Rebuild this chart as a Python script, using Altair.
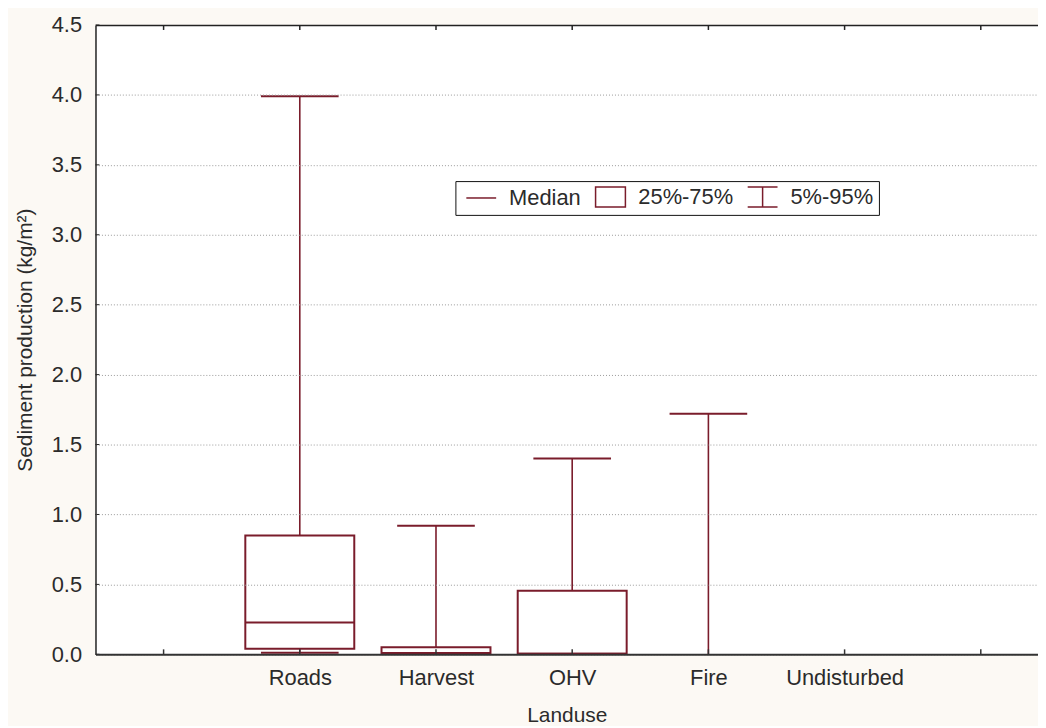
import altair as alt
import pandas as pd

# ---- data ----
categories = ["Roads", "Harvest", "OHV", "Fire", "Undisturbed"]
p05 = [0.012, 0.0, 0.0, 0.0, 0.0]
q1 = [0.04, 0.005, 0.005, 0.0, 0.0]
median = [0.227, 0.01, 0.005, 0.0, 0.0]
q3 = [0.85, 0.05, 0.455, 0.0, 0.0]
p95 = [3.99, 0.92, 1.40, 1.72, 0.0]

axis_labels = [""] + categories + [""]
y_ticks = [0.0, 0.5, 1.0, 1.5, 2.0, 2.5, 3.0, 3.5, 4.0, 4.5]
legend_items = ["Median", "25%-75%", "5%-95%"]
legend_paths = [
    "M-1.5,0H1.5",
    "M-1.5,-1H1.5V1H-1.5Z",
    "M-1.5,-1H1.5M0,-1V1M-1.5,1H1.5",
]

MAROON = "#7a1c2b"
FONT = "Liberation Sans"
FS = 22
FT = 21
TXT = "#2b2b2b"
W, H = 948, 633
NBSP = "\u00a0"

df = pd.DataFrame({
    "cat": categories,
    "idx": list(range(1, len(categories) + 1)),
    "p05": p05, "q1": q1, "median": median, "q3": q3, "p95": p95,
})
ticks_df = pd.DataFrame({"t": list(range(len(axis_labels)))})
yticks_df = pd.DataFrame({"v": y_ticks})
legend_df = pd.DataFrame({"item": legend_items})

xs = alt.Scale(domain=[-0.5, 6.42], nice=False, zero=False)
ys = alt.Scale(domain=[0, 4.5], nice=False, zero=False)

label_expr = "[" + ",".join('"%s"' % l for l in axis_labels) + "][datum.value]"
legend_label_expr = "datum.label == '%s' ? datum.label + '%s' : datum.label" % (
    legend_items[-1], NBSP * 3)

bottom_axis = alt.Axis(
    orient="bottom", values=list(range(len(axis_labels))), labelExpr=label_expr,
    ticks=False, tickSize=0, labelPadding=13, labelFontSize=FS, labelFont=FONT,
    labelColor=TXT, title="Landuse", titleFont=FONT, titleFontSize=FT,
    titleFontWeight="normal", titleColor=TXT, titlePadding=17, grid=False,
    domainColor="#333333", domainWidth=2, zindex=2, labelAngle=0,
)
top_axis = alt.Axis(
    orient="top", labels=False, ticks=False, tickSize=0, title=None, grid=False,
    domainColor="#222222", domainWidth=1.5, zindex=2,
)
y_axis = alt.Axis(
    values=y_ticks, format=".1f", ticks=False, tickSize=0, labelPadding=14,
    labelFontSize=FS, labelFont=FONT, labelColor=TXT,
    title="Sediment production (kg/m²)", titleFont=FONT, titleFontSize=FT,
    titleFontWeight="normal", titleColor=TXT, titlePadding=16,
    grid=True, gridColor="#9a9a9a", gridDash=[1, 2], gridWidth=1,
    domainColor="#222222", domainWidth=1.5, zindex=2,
)

# decorative inward ticks (bottom / top / left)
bottom_ticks = alt.Chart(ticks_df).mark_rule(color="#333333", strokeWidth=1.5).encode(
    x=alt.X("t:Q", scale=xs, axis=bottom_axis),
    y=alt.value(H), y2=alt.value(H - 5),
)
top_ticks = alt.Chart(ticks_df).mark_rule(color="#222222", strokeWidth=1.5).encode(
    x=alt.X("t:Q", scale=xs, axis=top_axis),
    y=alt.value(0), y2=alt.value(5),
)
left_ticks = alt.Chart(yticks_df).mark_rule(color="#222222", strokeWidth=1).encode(
    y=alt.Y("v:Q", scale=ys, axis=y_axis),
    x=alt.value(0), x2=alt.value(4),
)

base = alt.Chart(df).transform_calculate(
    bx1="datum.idx - 0.40", bx2="datum.idx + 0.40",
    cx1="datum.idx - 0.285", cx2="datum.idx + 0.285",
)

whisker = base.mark_rule(color=MAROON, strokeWidth=1.6).encode(
    x=alt.X("idx:Q", scale=xs, axis=None),
    y=alt.Y("p05:Q", scale=ys, axis=None), y2="p95:Q",
)
cap_hi = base.transform_filter("datum.p95 > 0").mark_rule(color=MAROON, strokeWidth=2).encode(
    x=alt.X("cx1:Q", scale=xs, axis=None), x2="cx2:Q",
    y=alt.Y("p95:Q", scale=ys, axis=None),
)
cap_lo = base.transform_filter("datum.p05 > 0").mark_rule(color=MAROON, strokeWidth=2).encode(
    x=alt.X("cx1:Q", scale=xs, axis=None), x2="cx2:Q",
    y=alt.Y("p05:Q", scale=ys, axis=None),
)
box = base.transform_filter("datum.q3 > 0").mark_rect(fill="white", stroke=MAROON, strokeWidth=2).encode(
    x=alt.X("bx1:Q", scale=xs, axis=None), x2="bx2:Q",
    y=alt.Y("q1:Q", scale=ys, axis=None), y2="q3:Q",
)
med = base.transform_filter("datum.median > 0").mark_rule(color=MAROON, strokeWidth=2).encode(
    x=alt.X("bx1:Q", scale=xs, axis=None), x2="bx2:Q",
    y=alt.Y("median:Q", scale=ys, axis=None),
)

legend_layer = alt.Chart(legend_df).mark_point(filled=False, opacity=0, strokeWidth=1.5).encode(
    x=alt.value(0), y=alt.value(0),
    color=alt.value(MAROON),
    shape=alt.Shape(
        "item:N",
        scale=alt.Scale(domain=legend_items, range=legend_paths),
        sort=legend_items,
        legend=alt.Legend(
            title=None, orient="none", legendX=362, legendY=157,
            direction="horizontal", fillColor="white", strokeColor="#111111",
            padding=5, symbolSize=400, symbolStrokeWidth=1.5, symbolOffset=10,
            symbolStrokeColor=MAROON, symbolFillColor="transparent",
            symbolOpacity=1, labelFont=FONT, labelFontSize=FS,
            labelColor=TXT, labelOffset=17, columnPadding=8,
            labelExpr=legend_label_expr,
        ),
    ),
)

chart = alt.layer(
    whisker, cap_hi, cap_lo, box, med,
    bottom_ticks, top_ticks, left_ticks, legend_layer,
).resolve_axis(x="independent", y="independent").properties(
    width=W, height=H,
    autosize=alt.AutoSizeParams(type="none"),
    padding={"left": 88, "top": 15, "right": 0, "bottom": 70},
    background="#fcf9f4",
).configure_view(fill="white", stroke=None)

chart.save("out.html", embed_options={"renderer": "svg", "actions": False})
